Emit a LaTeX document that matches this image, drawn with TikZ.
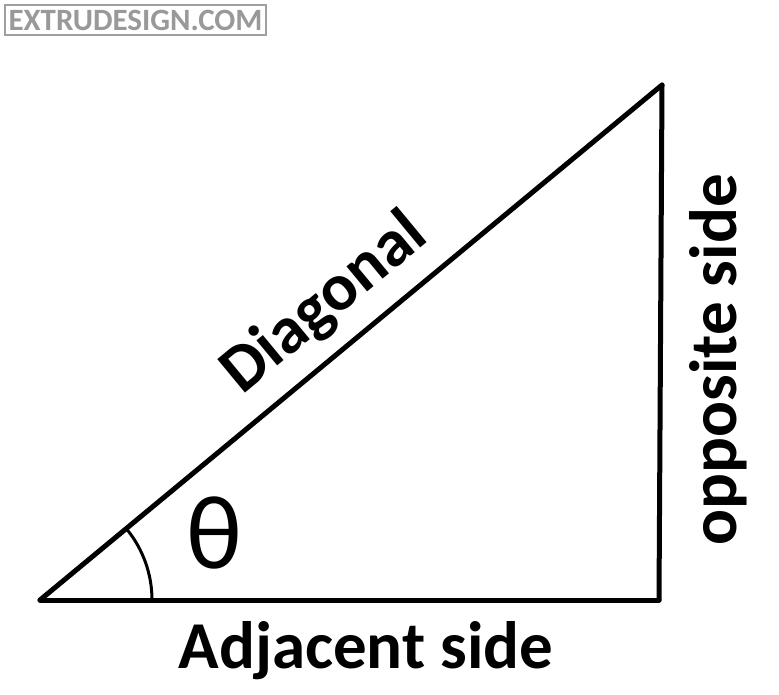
\documentclass[tikz,border=0pt]{standalone}
\usepackage{fontspec}
\setmainfont{Carlito}
\usetikzlibrary{positioning,calc}
\tikzset{
    stranica/.style={line width=5pt, line cap=round, line join=round},
    natpis/.style={font=\fontsize{67}{72}\selectfont\bfseries, inner sep=0pt},
    oznaka/.style={draw=gray!75, line width=2pt, fill=white, text=gray!80,
        font=\fontsize{31}{32}\selectfont\bfseries, inner sep=2pt,
        minimum width=261pt, minimum height=30pt}
}
\begin{document}
\begin{tikzpicture}[x=1pt, y=-1pt]
\useasboundingbox (0,0) rectangle (779,695);
%vrhovi
    \coordinate (A) at (40,600);
    \coordinate (B) at (659,600);
    \coordinate (C) at (662,85);

%stranice
    \draw[stranica] (A) -- (B);
    \draw[stranica] (B) -- (C);
    \draw[stranica] (A) -- (C);

%kut
    \draw[line width=3pt] ($(A)+(112,0)$) arc[start angle=0, end angle=-39.6, radius=112];
    \node[font=\fontsize{105}{105}\selectfont, inner sep=0pt] (theta) at (214,533) {θ};

%natpisi
    \node[natpis] (adj) at (366,651) {Adjacent side};
    \node[natpis, rotate=90] (opp) at (718,360) {opposite side};
    \node[natpis, rotate=39.6] (diag) at (325,304) {Diagonal};

%vodeni zig
    \node[oznaka] (wm) at (135.5,20) {EXTRUDESIGN.COM};
\end{tikzpicture}
\end{document}
